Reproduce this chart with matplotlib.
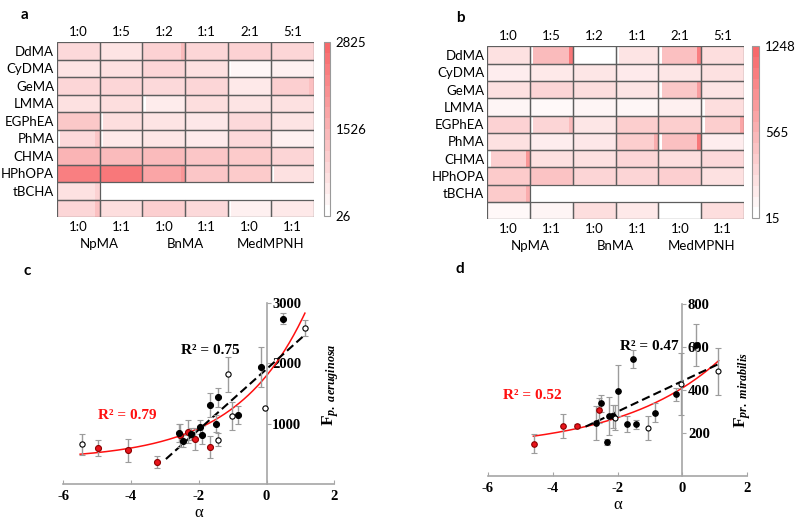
import numpy as np
import matplotlib
matplotlib.use('Agg')
import matplotlib.pyplot as plt
from matplotlib.colors import LinearSegmentedColormap, TwoSlopeNorm
from matplotlib.patches import Rectangle
import matplotlib.cm as cm

plt.rcParams['axes.unicode_minus'] = False
plt.rcParams['mathtext.fontset'] = 'custom'
plt.rcParams['mathtext.rm'] = 'Liberation Serif:bold'
plt.rcParams['mathtext.it'] = 'Liberation Serif:bold:italic'
plt.rcParams['mathtext.bf'] = 'Liberation Serif:bold'

# heatmap labels
rows = ['DdMA', 'CyDMA', 'GeMA', 'LMMA', 'EGPhEA', 'PhMA', 'CHMA', 'HPhOPA', 'tBCHA', '']
top_ratios = ['1:0', '1:5', '1:2', '1:1', '2:1', '5:1']
bottom_ratios = ['1:0', '1:1', '1:0', '1:1', '1:0', '1:1']
groups = ['NpMA', 'BnMA', 'MedMPNH']

nan = np.nan
# panel a values
vals_a = [
    [776, 566, 926, 836, 926, 836],
    [566, 626, 836, 626, 206, 326],
    [836, 836, 776, 836, 476, 986],
    [626, 686, 416, 686, 566, 626],
    [1136, 686, 566, 506, 776, 566],
    [776, 476, 536, 446, 776, 326],
    [1526, 1376, 1376, 1166, 1076, 866],
    [2435, 2565, 1786, 1166, 1076, 626],
    [626, nan, nan, nan, nan, nan],
    [836, 686, 986, 776, 326, 476],
]
scale_a = [26, 1526, 2825]
# darker right edge strips (row, col, value), white left edge strips (row, col)
right_a = [(0, 2, 1376), (5, 0, 1166), (2, 5, 1286), (9, 0, 1286), (7, 2, 2046), (8, 0, 926)]
left_a = [(5, 0), (3, 2), (5, 1), (4, 1), (9, 4), (7, 5), (1, 4)]

# panel b values
vals_b = [
    [235, 510, 15, 213, 477, 257],
    [147, 180, 202, 169, 202, 235],
    [235, 323, 257, 213, 422, 213],
    [92, 59, 92, 81, 125, 257],
    [345, 323, 202, 378, 378, 378],
    [235, 147, 191, 378, 477, 147],
    [367, 235, 235, 312, 257, 290],
    [400, 455, 323, 323, 367, 235],
    [400, nan, nan, nan, nan, nan],
    [70, 92, 257, 180, 15, 257],
]
scale_b = [15, 565, 1248]
right_b = [(0, 1, 1111), (0, 4, 1043), (2, 4, 770), (4, 1, 510), (4, 5, 702),
           (5, 3, 633), (5, 4, 1111), (6, 0, 838), (8, 0, 633)]
left_b = [(0, 1), (6, 0), (0, 4), (5, 4), (4, 1), (4, 5), (2, 4), (3, 5), (0, 3)]

# scatter c (P. aeruginosa)
open_c_x = [-5.44, -1.44, -1.14, -1.03, -0.04, 1.13]
open_c_y = [657, 735, 1823, 1127, 1254, 2586]
open_c_err = [180, 110, 290, 230, 0, 130]
black_c_x = [0.47, -0.16, -0.83, -1.42, -1.49, -1.67, -1.96, -1.90, -2.59, -2.48, -2.23]
black_c_y = [2746, 1945, 1144, 1436, 1000, 1309, 939, 812, 851, 713, 829]
black_c_err = [90, 330, 150, 155, 145, 205, 115, 150, 150, 95, 100]
red_c_x = [-4.98, -4.10, -3.24, -2.54, -2.32, -2.11, -1.67]
red_c_y = [602, 558, 359, 807, 867, 751, 619]
red_c_err = [130, 190, 100, 190, 190, 180, 180]
red_fit_c = (400, 1400, 0.49, -5.5, 1.13)     # C + A*exp(k*x), x range
black_fit_c = (503, 1908, -2.97, 1.13)        # slope, intercept, x range

# scatter d (Pr. mirabilis)
open_d_x = [-2.08, -1.06, -0.05, 1.11]
open_d_y = [272, 222, 428, 488]
open_d_err = [60, 55, 145, 110]
black_d_x = [-2.67, -2.52, -2.32, -2.27, -2.15, -1.98, -1.70, -1.52, -1.43, -0.85, -0.20, 0.43]
black_d_y = [248, 339, 159, 280, 277, 397, 242, 545, 241, 295, 380, 608]
black_d_err = [80, 40, 13, 87, 52, 120, 35, 43, 22, 43, 29, 98]
red_d_x = [-4.58, -3.67, -3.24, -2.57]
red_d_y = [150, 233, 233, 305]
red_d_err = [45, 57, 10, 60]
red_fit_d = (120, 290, 0.324, -4.6, 1.12)
black_fit_d = (71, 442, -2.99, 1.14)

hfont = 'Lato'
sfont = 'Liberation Serif'
hsize = 9.5
cmap = LinearSegmentedColormap.from_list('wr', [(0, '#FFFFFF'), (0.5, '#FAB4B5'), (1, '#F8696B')])
edge = '#5E5E5E'

fig = plt.figure(figsize=(8, 5.27), dpi=100)


def heatmap(rect, crect, vals, scale, right, left):
    ax = fig.add_axes(rect)
    norm = TwoSlopeNorm(vmin=scale[0], vcenter=scale[1], vmax=scale[2])
    data = np.ma.masked_invalid(np.array(vals, dtype=float))
    ax.pcolormesh(np.arange(7), np.arange(11), data, cmap=cmap, norm=norm)
    for r, c, v in right:
        ax.add_patch(Rectangle((c + 0.9, r), 0.1, 1, color=cmap(norm(v)), lw=0))
    for r, c in left:
        ax.add_patch(Rectangle((c, r), 0.08, 1, color='white', lw=0))
    for r in range(len(rows)):
        for c in range(6):
            if not np.isnan(vals[r][c]):
                ax.add_patch(Rectangle((c, r), 1, 1, fill=False, ec=edge, lw=0.9))
    ax.set_xlim(0, 6)
    ax.set_ylim(10, 0)
    for s in ax.spines.values():
        s.set_visible(False)
    ax.set_yticks(np.arange(10) + 0.5)
    ax.set_yticklabels(rows, family=hfont, fontsize=hsize)
    ax.set_xticks(np.arange(6) + 0.5)
    ax.set_xticklabels(bottom_ratios, family=hfont, fontsize=hsize)
    ax.tick_params(length=0, pad=2)
    ax.tick_params(axis='x', pad=3)
    top = ax.secondary_xaxis('top')
    top.set_xticks(np.arange(6) + 0.5)
    top.set_xticklabels(top_ratios, family=hfont, fontsize=hsize)
    top.tick_params(length=0, pad=3)
    top.spines['top'].set_visible(False)
    for i, g in enumerate(groups):
        ax.annotate(g, xy=(2 * i + 1, 0), xycoords=('data', 'axes fraction'),
                    xytext=(0, -15), textcoords='offset points',
                    ha='center', va='top', family=hfont, fontsize=hsize)
    cax = fig.add_axes(crect)
    sm = cm.ScalarMappable(norm=norm, cmap=cmap.resampled(16))
    cb = fig.colorbar(sm, cax=cax, ticks=scale)
    cb.ax.set_yticklabels([str(v) for v in scale], family=hfont, fontsize=hsize)
    cb.ax.tick_params(length=0, pad=4)
    cb.outline.set_edgecolor('#9A9A9A')
    cb.outline.set_linewidth(0.8)
    return ax


heatmap([0.071, 0.588, 0.321, 0.332], [0.405, 0.59, 0.0075, 0.33], vals_a, scale_a, right_a, left_a)
heatmap([0.609, 0.584, 0.321, 0.328], [0.94, 0.586, 0.009, 0.326], vals_b, scale_b, right_b, left_b)


def scatter(rect, ymax, yticks, ylab, groups_xy, red_fit, black_fit, r2, ylab_pos):
    ax = fig.add_axes(rect)
    ax.set_xlim(-6, 2)
    ax.set_ylim(0, ymax)
    ax.spines['top'].set_visible(False)
    ax.spines['left'].set_visible(False)
    ax.spines['right'].set_position(('data', 0))
    for s in ('right', 'bottom'):
        ax.spines[s].set_color('#A6A6A6')
        ax.spines[s].set_linewidth(1.2)
    ax.yaxis.tick_right()
    ax.set_yticks(yticks)
    ax.set_xticks([-6, -4, -2, 0, 2])
    ax.tick_params(axis='y', direction='out', length=3, color='#A6A6A6', pad=1)
    ax.tick_params(axis='x', direction='in', length=3, color='#A6A6A6', pad=4)
    for lab in ax.get_xticklabels() + ax.get_yticklabels():
        lab.set_family(sfont)
        lab.set_fontweight('bold')
        lab.set_fontsize(10.5)
    ax.set_xlabel('α', family=sfont, fontsize=12, labelpad=2)

    xs = np.linspace(red_fit[3], red_fit[4], 200)
    ax.plot(xs, red_fit[0] + red_fit[1] * np.exp(red_fit[2] * xs), color='#FF1010', lw=1.1, zorder=2)
    xl = np.array([black_fit[2], black_fit[3]])
    ax.plot(xl, black_fit[0] * xl + black_fit[1], color='black', lw=1.5, ls=(0, (4, 2)), zorder=2)

    for (x, y, e, fc, ec, ms) in groups_xy:
        ax.errorbar(x, y, yerr=e, fmt='o', ms=ms, mfc=fc, mec=ec, mew=0.8,
                    ecolor='#9C9C9C', elinewidth=1, capsize=2.2, capthick=1, zorder=3)

    (tx1, ty1, t1), (tx2, ty2, t2) = r2
    ax.text(tx1, ty1, t1, color='black', family=sfont, fontweight='bold', fontsize=11,
            ha='center', va='center', zorder=4)
    ax.text(tx2, ty2, t2, color='#FF1010', family=sfont, fontweight='bold', fontsize=11,
            ha='center', va='center', zorder=4)
    ax.text(ylab_pos[0], ylab_pos[1], ylab, rotation=90, fontsize=12.5,
            ha='center', va='center')
    return ax


scatter([0.079, 0.0816, 0.339, 0.343], 3000, [1000, 2000, 3000],
        r'$\mathrm{F}_{p.\ aeruginosa}$',
        [(red_c_x, red_c_y, red_c_err, '#E8141B', '#8B0000', 4.3),
         (black_c_x, black_c_y, black_c_err, 'black', 'black', 4.3),
         (open_c_x, open_c_y, open_c_err, 'white', 'black', 3.8)],
        red_fit_c, black_fit_c,
        [(-1.67, 2210, 'R² = 0.75'), (-4.1, 1133, 'R² = 0.79')], (1.9, 1650))

scatter([0.61, 0.0968, 0.324, 0.326], 800, [200, 400, 600, 800],
        r'$\mathrm{F}_{pr.\ mirabilis}$',
        [(red_d_x, red_d_y, red_d_err, '#E8141B', '#8B0000', 4),
         (black_d_x, black_d_y, black_d_err, 'black', 'black', 4),
         (open_d_x, open_d_y, open_d_err, 'white', 'black', 3.6)],
        red_fit_d, black_fit_d,
        [(-1.03, 601, 'R² = 0.47'), (-4.62, 373, 'R² = 0.52')], (1.85, 400))

for lab, x, y in [('a', 0.031, 0.972), ('b', 0.575, 0.965), ('c', 0.034, 0.485), ('d', 0.575, 0.49)]:
    fig.text(x, y, lab, family=hfont, fontweight='bold', fontsize=11, ha='center', va='center')

fig.savefig('out.png', dpi=100)
